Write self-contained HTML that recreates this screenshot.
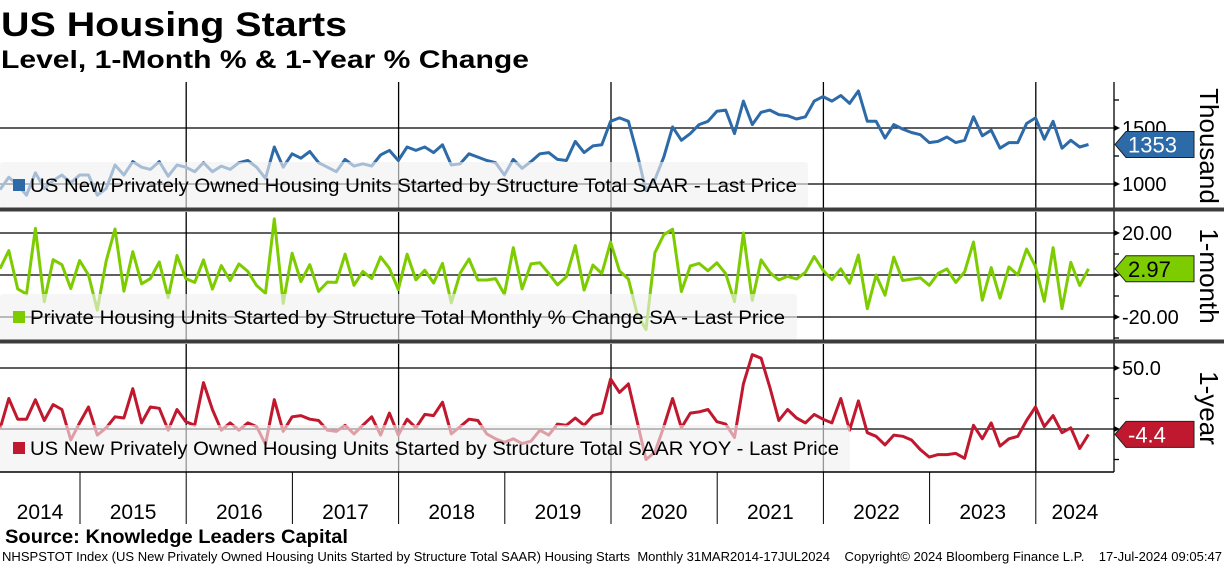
<!DOCTYPE html>
<html><head><meta charset="utf-8"><style>
html,body{margin:0;padding:0;background:#fff;}
svg{display:block;font-family:"Liberation Sans",sans-serif;}
</style></head><body>
<svg id="chart" width="1224" height="566" viewBox="0 0 1224 566" xmlns="http://www.w3.org/2000/svg">
<text x="1" y="36" font-size="34" font-weight="bold" textLength="346" lengthAdjust="spacingAndGlyphs">US Housing Starts</text>
<text x="1" y="68" font-size="25" font-weight="bold" textLength="528" lengthAdjust="spacingAndGlyphs">Level, 1-Month % &amp; 1-Year % Change</text>
<g id="grid"></g>
<g id="lines"></g>
<g id="legends"></g>
<g id="axes"></g>
<text x="5" y="543" font-size="19" font-weight="bold" textLength="343" lengthAdjust="spacingAndGlyphs">Source: Knowledge Leaders Capital</text>
<text x="2" y="561" font-size="12.5" textLength="1220" lengthAdjust="spacingAndGlyphs" xml:space="preserve">NHSPSTOT Index (US New Privately Owned Housing Units Started by Structure Total SAAR) Housing Starts  Monthly 31MAR2014-17JUL2024    Copyright© 2024 Bloomberg Finance L.P.    17-Jul-2024 09:05:47</text>
</svg>
<script>
// Monthly data, Mar 2014 .. Jun 2024
const startYear = 2014, startMonth = 3;
const years = ["2014","2015","2016","2017","2018","2019","2020","2021","2022","2023","2024"];
const levelValues = [950,1060,990,900,1100,960,1030,1080,1010,1080,
1080,900,960,1170,1080,1200,1150,1130,1200,1070,1170,1150,
1110,1190,1110,1160,1130,1190,1210,1150,1050,1330,1150,1270,
1230,1290,1190,1150,1110,1220,1160,1180,1160,1260,1300,1210,
1330,1300,1330,1280,1350,1170,1180,1270,1240,1210,1190,1080,
1220,1140,1200,1270,1280,1220,1210,1380,1280,1340,1350,1560,
1590,1560,1270,940,1040,1240,1510,1390,1450,1530,1560,1650,
1660,1450,1740,1530,1640,1660,1620,1610,1580,1600,1740,1780,
1740,1790,1720,1830,1560,1560,1410,1530,1490,1460,1440,1370,
1380,1420,1370,1390,1600,1430,1480,1320,1370,1370,1540,1590,
1400,1560,1320,1390,1330,1353];
const momValues = [3,11.6,-6.6,-9.1,22.2,-12.7,7.3,4.9,-6.5,6.9,
0,-16.7,6.7,21.9,-7.7,11.1,-4.2,-1.7,6.2,-10.8,9.3,-1.7,
-3.5,7.2,-6.7,4.5,-2.6,5.3,1.7,-5,-8.7,26.7,-13.5,10.4,
-3.1,4.9,-7.8,-3.4,-3.5,9.9,-4.9,1.7,-1.7,8.6,3.2,-6.9,
9.9,-2.3,2.3,-3.8,5.5,-13.3,0.9,7.6,-2.4,-2.4,-1.7,-9.2,
13,-6.6,5.3,5.8,0.8,-4.7,-0.8,14,-7.2,4.7,0.7,15.6,
1.9,-1.9,-18.6,-26,10.6,19.2,21.8,-7.9,4.3,5.5,2,5.8,
0.6,-12.7,20,-12.1,7.2,1.2,-2.4,-0.6,-1.9,1.3,8.8,2.3,
-2.2,2.9,-3.9,9.5,-16,0,-9.6,8.5,-2.6,-2,-1.4,-4.9,
0.7,2.9,-3.5,1.5,15.7,-12,3.5,-11,3.8,0,12.4,4,
-12.5,13,-16,6,-5,2.97];
const yoyValues = [0,25,8,8,24,7,20,16,-9,5,
18,-5,1,10,9,33,5,18,17,-1,16,6,
3,38,16,-1,5,-1,5,2,-12.5,24,-2,10,
11,8,7,-1,-2,3,-4,3,10,-5,13,-5,
8,1,12,11,22,-4,2,8,7,-4,-8,-11,
-8,-12,-10,-1,-5,4,3,9,3,11,13,41,
30,37,6,-25,-19,2,25,1,13,14,16,6,
4,-7,37,61,58,34,7,16,9,5,12,8,
5,25,-1,23,-3,-6,-13,-5,-6,-9,-17,-23,
-21,-21,-20,-24,3,-8,5,-14,-8,-6,7,18,
2,11,-3,1,-16,-4.4];
const levelTicks = [1000,1500];
const momTicks = [-20,0,20];
const yoyTicks = [0,50];

const NS = "http://www.w3.org/2000/svg";
const MW = 8.85;
const AX = 1114;
function xOf(i){ return i*MW; }
function xYear(yr){ return 80 + (yr-2015)*106.2; }
function yLevel(v){ return 128 + (1500-v)*0.112; }
function yMom(v){ return 275 - v*2.1; }
function yYoy(v){ return 429 - v*1.22; }
function mk(tag, attrs, parent){ const e=document.createElementNS(NS,tag); for(const k in attrs) e.setAttribute(k,attrs[k]); parent.appendChild(e); return e; }
const grid=document.getElementById('grid'), lines=document.getElementById('lines'), legends=document.getElementById('legends'), axes=document.getElementById('axes');

const panels=[
 {top:82,bot:208,ticks:levelTicks,y:yLevel,fmt:v=>String(v),vals:levelValues,color:"#2d6aa8",name:"level",minor:[1250,1750],
  legend:"US New Privately Owned Housing Units Started by Structure Total SAAR - Last Price",lw:808,lt:162,tl:767,
  tag:"1353",tagText:"#fff",title:"Thousand",tc:146},
 {top:212,bot:340,ticks:momTicks,y:yMom,fmt:v=>v===0?"":v.toFixed(2),vals:momValues,color:"#7dcc00",name:"one-month",minor:[-10,10,30,-30],
  legend:"Private Housing Units Started by Structure Total Monthly % Change SA - Last Price",lw:797,lt:294,tl:755,
  tag:"2.97",tagText:"#000",title:"1-month",tc:276},
 {top:344,bot:472,ticks:yoyTicks,y:yYoy,fmt:v=>v===0?"":v.toFixed(1),vals:yoyValues,color:"#c0182e",name:"one-year",minor:[-25,25],
  legend:"US New Privately Owned Housing Units Started by Structure Total SAAR YOY - Last Price",lw:850,lt:425,tl:809,
  tag:"-4.4",tagText:"#fff",title:"1-year",tc:408}
];
[2016,2018,2020,2022,2024].forEach(yr=>{
  const x = xYear(yr);
  panels.forEach(p=>{
    const l=mk('line',{x1:x,x2:x,y1:p.top,y2:p.bot,stroke:"#000","stroke-width":1.3},grid);
    
    
  });
});
panels.forEach(p=>{
  p.ticks.forEach(t=>{
    const y=p.y(t);
    const l=mk('line',{x1:0,x2:AX,y1:y,y2:y,stroke:"#000","stroke-width":1.3},grid);
    
    
    mk('polygon',{points:`${AX},${y-3} ${AX+6},${y} ${AX},${y+3}`,fill:"#000"},axes);
    const s=p.fmt(t);
    if(s){
      const tx=mk('text',{x:AX+8,y:y+7,"font-size":20},axes);
      tx.textContent=s;
      
      
    }
  });
  p.minor.forEach(t=>{
    const y=p.y(t);
    if(y>p.top && y<p.bot) mk('line',{x1:AX,x2:AX+5,y1:y,y2:y,stroke:"#000","stroke-width":1.3},axes);
  });
  const pts=p.vals.map((v,i)=>xOf(i).toFixed(1)+","+p.y(v).toFixed(1)).join(" ");
  const pl=mk('polyline',{points:pts,fill:"none",stroke:p.color,"stroke-width":3,"stroke-linejoin":"round"},lines);
  
  
  const g=mk('g',{},legends);
  
  
  mk('rect',{x:0,y:p.lt,width:p.lw,height:p.bot-p.lt,rx:3,fill:"rgba(240,240,240,0.62)"},g);
  mk('rect',{x:13,y:p.lt+17,width:12,height:12,fill:p.color},g);
  const lt=mk('text',{x:30,y:p.lt+30,"font-size":19,textLength:p.tl,lengthAdjust:"spacingAndGlyphs"},g);
  lt.textContent=p.legend;
  const last=p.vals[p.vals.length-1], ty=p.y(last);
  const tg=mk('g',{},axes);
  
  
  mk('polygon',{points:`${AX+1},${ty} ${AX+12},${ty-13} ${AX+80},${ty-13} ${AX+80},${ty+13} ${AX+12},${ty+13}`,fill:p.color,stroke:"#222","stroke-width":1},tg);
  const tt=mk('text',{x:AX+14,y:ty+8,"font-size":22,fill:p.tagText},tg);
  tt.textContent=p.tag;
  const at=mk('text',{x:0,y:0,"font-size":26,"text-anchor":"middle",transform:`translate(1200,${p.tc}) rotate(90)`},axes);
  at.textContent=p.title;
  
  
});
mk('line',{x1:AX,x2:AX,y1:82,y2:472,stroke:"#000","stroke-width":1.3},axes);
[209.5,341.5].forEach(y=>{
  const s=mk('rect',{x:0,y:y-2,width:1224,height:4,fill:"#3c3c3c"},axes);
  
  
});
mk('line',{x1:0,x2:AX,y1:472,y2:472,stroke:"#000","stroke-width":1.5},axes);
years.forEach((yr,k)=>{
  const x0 = k===0 ? 0 : 80+(k-1)*106.2;
  const x1 = 80+k*106.2;
  if(k>0){ mk('line',{x1:x0,x2:x0,y1:472,y2:524,stroke:"#000","stroke-width":1},axes); }
  const t=mk('text',{x:k===years.length-1?(x0+1114)/2:(x0+x1)/2,y:519,"font-size":21,"text-anchor":"middle"},axes);
  t.textContent=yr;
  
  
});
</script>
</body></html>
